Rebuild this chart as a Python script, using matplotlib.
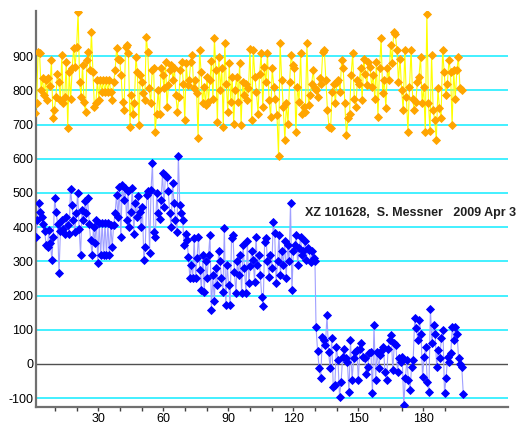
"""
Light curve of XZ 101628 (comparison star on top, variable below)
"""
import numpy as np
import matplotlib
matplotlib.use('Agg')
import matplotlib.pyplot as plt

plt.rcParams['font.family'] = ['Liberation Sans', 'DejaVu Sans']

# comparison star (orange) in two halves
comp_a = [735, 762, 913, 910, 801, 835, 786, 830, 771, 835, 812, 888, 718, 742, 781,
          849, 825, 771, 903, 762, 781, 884, 691, 854, 776, 864, 923, 869, 927, 1030,
          825, 781, 874, 767, 737, 888, 913, 859, 971, 854, 752, 762, 830, 771, 830,
          796, 830, 796, 830, 796, 830, 796, 771, 825, 859, 923, 893, 888, 845, 767,
          742, 927, 932, 908, 693, 786, 732, 762, 898, 854, 698, 845, 825, 791, 771,
          957, 913, 806, 762, 859, 864, 679, 732, 801, 732, 864, 845, 806, 884, 752,
          815, 859, 874, 830, 864, 786, 737, 781, 859, 884, 820, 713, 879, 815, 830,
          884, 903, 806, 830, 791, 662, 918, 854, 762, 811, 757, 840, 767, 830, 887,
          776, 952, 859, 708, 898, 801, 864, 693, 937, 820, 737, 879, 767, 840, 703,
          801, 840, 767, 879, 698, 825, 786, 820, 771, 806, 920]
comp_b = [713, 918, 840, 796, 732, 849, 908, 752, 869, 825, 908, 771, 723, 864, 811,
          776, 728, 609, 939, 830, 752, 654, 762, 703, 825, 903, 874, 864, 679, 811,
          767, 908, 732, 752, 737, 937, 757, 786, 820, 859, 806, 801, 781, 835, 820,
          913, 918, 830, 742, 693, 689, 796, 820, 762, 825, 830, 796, 888, 864, 762,
          669, 718, 732, 845, 908, 776, 752, 830, 820, 864, 771, 893, 849, 815, 884,
          869, 811, 845, 776, 884, 723, 864, 952, 791, 830, 747, 864, 830, 932, 879,
          971, 966, 918, 825, 893, 801, 742, 918, 781, 679, 811, 918, 776, 742, 767,
          825, 840, 898, 762, 811, 679, 1024, 762, 682, 903, 742, 713, 654, 806, 747,
          718, 918, 854, 786, 820, 888, 854, 698, 859, 776, 859, 898, 806, 801]

# variable star (blue): before and after the drop
var_a = [372, 421, 470, 445, 430, 410, 390, 348, 343, 392, 355, 304, 370, 485, 445,
         410, 266, 390, 420, 395, 380, 430, 405, 380, 513, 465, 420, 385, 440, 500,
         395, 318, 450, 420, 475, 440, 485, 410, 362, 318, 400, 355, 420, 295, 413,
         318, 413, 318, 413, 318, 413, 318, 405, 343, 406, 440, 494, 430, 518, 372,
         523, 480, 515, 421, 505, 400, 445, 515, 380, 470, 430, 490, 445, 400, 460,
         304, 343, 495, 505, 325, 510, 587, 387, 372, 500, 440, 425, 480, 558, 460,
         553, 547, 505, 440, 400, 530, 470, 420, 385, 609, 465, 440, 420, 348, 380,
         362, 314, 251, 290, 251, 367, 251, 310, 372, 275, 216, 320, 211, 300, 250,
         319, 377, 158, 260, 184, 280, 230, 330, 300, 250, 210, 398, 172, 290, 230,
         172, 369, 377, 270, 207, 300, 260, 320, 207, 348, 280, 207, 360, 236, 285,
         330, 304, 240, 372, 290, 320, 260, 197, 168, 357, 367, 300, 255, 320, 280,
         416, 382, 236, 300, 377, 260, 330, 290, 360, 250, 348, 300, 470, 216, 330,
         348, 377, 290, 340, 370, 320, 330, 360, 305, 340, 333, 299, 330, 310, 300]
var_b = [107, 38, -13, -42, 80, 70, 55, 143, 36, -13, 75, -67, -62, 50, 11,
         -96, -52, 21, 45, 16, 6, -81, 70, -47, 16, 36, 41, -47, 45, 60,
         21, 16, -28, -8, 31, 36, -86, 114, -47, 36, -13, 26, 41, 50, -23,
         -47, 45, 70, 84, -18, 60, 55, -23, 16, 6, 21, -120, -42, 11, -47,
         -77, -8, 11, 133, 104, 70, 128, 89, -38, 21, 50, -52, -81, 162, 60,
         114, 89, -8, 41, 16, 75, 99, -86, -42, 21, 6, 31, 109, 70, 109,
         89, 16, 1, -8, -89]

label_text = 'XZ 101628,  S. Messner   2009 Apr 3'
y_ticks = list(range(-100, 1000, 100))
x_ticks = list(range(10, 200, 10))

comp_x = np.concatenate([np.linspace(0.8, 100.0, len(comp_a)),
                         np.linspace(100.8, 197.7, len(comp_b))])
var_x = np.concatenate([np.linspace(1.2, 130.0, len(var_a)),
                        np.linspace(130.5, 198.5, len(var_b))])
comp_y = comp_a + comp_b
var_y = var_a + var_b

fig = plt.figure(figsize=(5.27, 4.29), dpi=100)
ax = fig.add_axes([36 / 527, 22.3 / 429, 471.7 / 527, 395.7 / 429])

ax.set_xlim(1.2, 219)
ax.set_ylim(-125, 1032)

# cyan grid, dark zero line
for yv in y_ticks:
    if yv == 0:
        ax.axhline(0, color='#505050', linewidth=1.0, zorder=1)
    else:
        ax.axhline(yv, color='#22eeff', linewidth=1.2, zorder=1)

ax.plot(var_x, var_y, color='#a0a0ff', linewidth=0.8, marker='D', markersize=3.8,
        markerfacecolor='#0000ff', markeredgecolor='#0000ff', markeredgewidth=0.6,
        zorder=3)
ax.plot(comp_x, comp_y, color='#ffff00', linewidth=0.8, marker='D', markersize=3.8,
        markerfacecolor='#ffa500', markeredgecolor='#ffa500', markeredgewidth=0.6,
        zorder=3)

ax.text(125.4, 442, label_text, fontsize=9, fontweight='bold', ha='left', va='center',
        color='#202020', zorder=4)

ax.set_yticks(y_ticks)
ax.set_yticklabels([str(t) for t in y_ticks])
ax.set_xticks(x_ticks)
ax.set_xticklabels([str(t) if t % 30 == 0 else '' for t in x_ticks])
ax.tick_params(axis='y', length=0, pad=2, labelsize=9)
ax.tick_params(axis='x', length=3, width=1, direction='out', pad=1.5, labelsize=9,
               color='#404040')

for side in ['top', 'right']:
    ax.spines[side].set_visible(False)
for side in ['left', 'bottom']:
    ax.spines[side].set_color('#707070')
    ax.spines[side].set_linewidth(1.6)

plt.savefig('out.png', dpi=100)
